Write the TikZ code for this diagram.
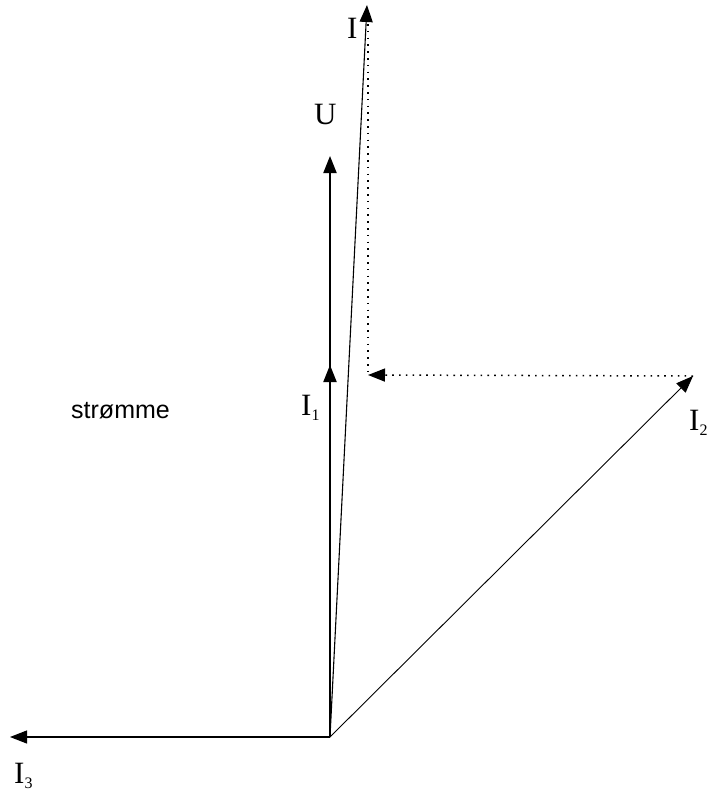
\documentclass[tikz,border=0pt]{standalone}
\usepackage{fontspec}
\setmainfont{Liberation Serif}
\newfontfamily\arialf{Liberation Sans}
\usetikzlibrary{arrows.meta}
\newcommand{\vlab}[2]{#1\raisebox{-5pt}{\fontsize{16}{16}\selectfont #2}}
\begin{document}
\begin{tikzpicture}[x=1pt,y=-1pt,
  vec/.style={line width=1.1pt,-{Triangle[length=17pt,width=13pt]}},
  thickvec/.style={line width=2pt,-{Triangle[length=17pt,width=13pt]}},
  thinvec/.style={line width=0.9pt,-{Triangle[length=17pt,width=13pt]}},
  lab/.style={font=\fontsize{31}{31}\selectfont, inner sep=0pt, anchor=base west},
  aux/.style={line width=1.5pt, dash pattern=on 1.6pt off 5.2pt},
  auxvec/.style={aux,-{Triangle[length=17pt,width=13pt]}}]
\useasboundingbox (0,0) rectangle (709,796);
\coordinate (O) at (330,737);
\coordinate (I3tip) at (10,737);
\coordinate (I2tip) at (693,376);
\coordinate (Itip) at (367,5);
\coordinate (Utip) at (330,156);
\coordinate (I1tip) at (330,365);
\coordinate (corner) at (368,375);
\coordinate (top) at (368,24);

\draw[thickvec] (O) -- (Utip);
\draw[thickvec] (O) -- (I1tip);
\draw[vec] (O) -- (Itip);
\draw[thinvec] (O) -- (I2tip);
\draw[vec] (O) -- (I3tip);
\draw[aux] (top) -- (corner);
\draw[auxvec] (I2tip) -- (corner);

\node[lab] (lI) at (347,38) {I};
\node[lab] (lU) at (314,124) {U};
\node[lab] (lI1) at (301,415) {\vlab{I}{1}};
\node[lab] (lI2) at (689,430) {\vlab{I}{2}};
\node[lab] (lI3) at (14,783) {\vlab{I}{3}};
\node[inner sep=0pt, anchor=base west, font=\arialf\fontsize{25}{25}\selectfont] (str) at (71,418) {strømme};
\end{tikzpicture}
\end{document}
